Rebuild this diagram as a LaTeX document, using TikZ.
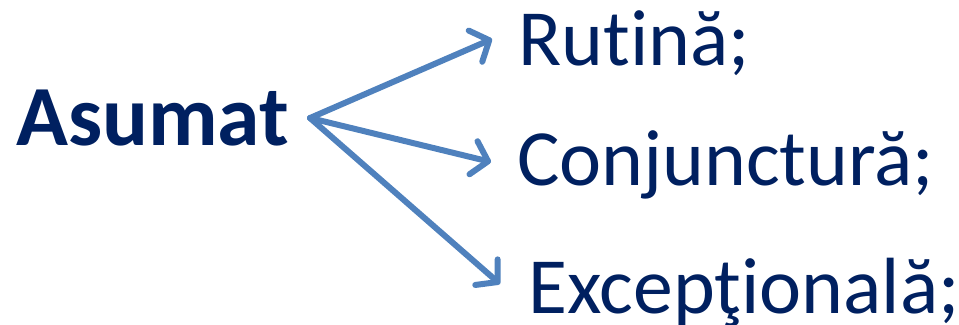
\documentclass[tikz,border=0pt]{standalone}
\usepackage{fontspec}
\setmainfont{Carlito}[Ligatures=NoCommon]
\usetikzlibrary{arrows.meta}
\definecolor{navytext}{RGB}{0,32,96}
\definecolor{arrowblue}{RGB}{79,129,189}

\begin{document}
\begin{tikzpicture}[x=1bp,y=-1bp,
    item/.style={anchor=base west,inner sep=0pt,text=navytext,font=\fontsize{80}{92}\selectfont},
    branch/.style={draw=arrowblue,line width=6bp,line cap=round,line join=round,
        -{Straight Barb[length=15bp,width=34bp,line cap=round,line join=round]}}]
    \useasboundingbox (0,0) rectangle (959,324);
    \node[item,font=\fontsize{86}{98}\selectfont\bfseries] (asumat) at (16,145) {Asumat};
    \node[item] (rutina) at (518,65) {Rutină;};
    \node[item] (conj) at (517,185) {Conjunctură;};
    \node[item] (excep) at (528,313) {Excepţională;};
    \coordinate (fork) at (310,118);
    \coordinate (tipA) at (492,39);
    \coordinate (tipB) at (491,162);
    \coordinate (tipC) at (500,284);
    \draw[branch] (fork) -- (tipA);
    \draw[branch] (fork) -- (tipB);
    \draw[branch] (fork) -- (tipC);
\end{tikzpicture}
\end{document}
